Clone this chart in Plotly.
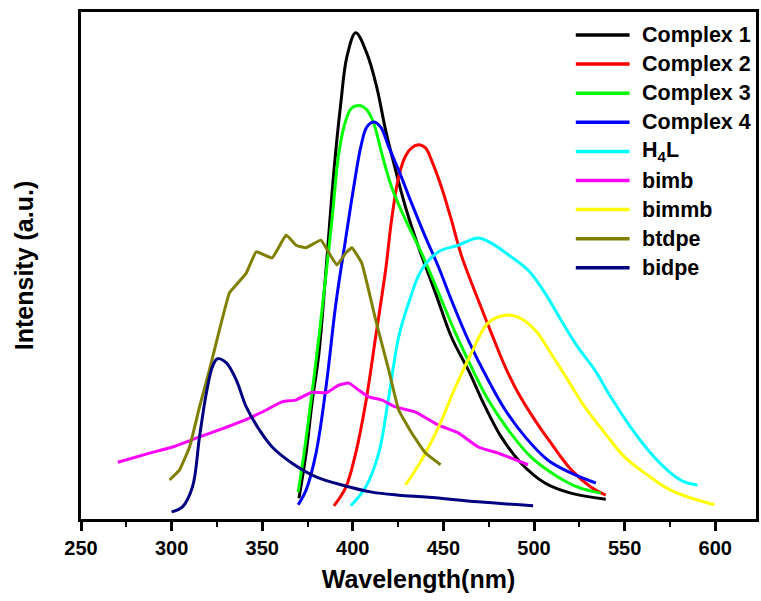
import plotly.graph_objects as go

# ---------------- data (wavelength nm, intensity a.u.) ----------------
c1_x = [370.3, 374.2, 377.5, 381.3, 385.2, 389.6, 393.4, 396.7, 401.6, 407.7, 413.2, 418.1, 423.6, 429.1, 436.3, 445.6, 454.4, 463.7, 473.1, 481.9, 492.9, 506.0, 520.3, 539.6]
c1_y = [4.1, 12.9, 22.9, 32.7, 49.1, 68.8, 82.1, 91.1, 95.9, 91.9, 85.2, 76.7, 68.8, 61.5, 53.6, 44.6, 35.9, 29.4, 22.1, 16.2, 11.0, 7.1, 5.1, 3.9]

c2_x = [389.6, 396.2, 401.6, 407.1, 412.6, 418.1, 421.4, 425.3, 429.1, 432.4, 436.3, 440.1, 443.4, 448.9, 454.4, 459.9, 469.2, 476.4, 484.1, 491.2, 500.5, 509.3, 520.3, 531.3, 539.6]
c2_y = [2.6, 6.3, 13.0, 22.9, 35.9, 49.1, 59.0, 67.5, 71.6, 73.2, 73.8, 73.2, 70.8, 65.5, 59.0, 52.0, 43.2, 36.7, 30.0, 24.9, 19.5, 15.0, 9.8, 6.3, 4.7]

c3_x = [369.8, 373.1, 377.5, 381.3, 388.5, 392.3, 396.2, 399.5, 404.4, 407.7, 411.5, 415.9, 421.4, 429.1, 437.9, 447.3, 456.6, 465.4, 474.7, 485.7, 498.4, 513.2, 524.2, 536.8]
c3_y = [5.3, 13.0, 24.9, 35.9, 59.0, 72.2, 78.7, 81.1, 81.5, 80.7, 78.1, 72.2, 65.5, 59.0, 52.5, 44.6, 36.7, 30.0, 23.5, 17.6, 12.2, 8.3, 6.3, 5.1]

c4_x = [369.8, 374.2, 379.7, 385.2, 390.7, 396.2, 400.5, 404.4, 407.7, 411.5, 415.4, 419.8, 425.3, 432.4, 440.1, 447.3, 454.4, 463.7, 474.7, 484.1, 495.1, 507.7, 520.3, 534.1]
c4_y = [2.8, 5.7, 13.0, 26.0, 42.6, 55.6, 65.5, 73.4, 77.3, 78.3, 77.3, 73.4, 68.8, 62.3, 55.6, 49.7, 43.2, 35.3, 27.4, 21.5, 16.2, 11.6, 9.1, 7.1]

h4l_x = [398.9, 407.1, 414.3, 419.8, 425.3, 430.8, 437.9, 447.3, 458.2, 469.2, 476.4, 487.4, 496.7, 506.0, 514.8, 524.2, 533.5, 542.3, 553.3, 564.3, 575.3, 583.0, 590.1]
h4l_y = [2.6, 6.3, 13.0, 24.0, 35.9, 42.6, 49.1, 52.7, 54.0, 55.4, 54.4, 51.7, 49.1, 44.6, 39.3, 33.9, 29.4, 24.1, 18.1, 13.0, 9.1, 7.3, 6.7]

bimb_x = [270.3, 287.9, 300.5, 315.4, 330.2, 342.9, 352.2, 361.0, 368.7, 377.5, 385.2, 392.3, 397.8, 403.3, 408.8, 415.9, 423.6, 434.6, 447.3, 458.2, 469.2, 480.2, 496.7]
bimb_y = [11.2, 13.0, 14.2, 16.2, 18.1, 19.9, 21.5, 23.1, 23.5, 25.0, 24.9, 26.4, 26.8, 25.4, 24.1, 23.5, 22.1, 21.1, 18.5, 17.0, 14.2, 13.0, 10.7]

bimmb_x = [429.1, 437.9, 447.3, 456.6, 465.4, 474.7, 484.1, 491.2, 500.5, 509.3, 518.7, 528.0, 539.0, 550.0, 561.0, 575.3, 599.5]
bimmb_y = [6.7, 11.6, 18.1, 26.0, 32.7, 38.7, 40.2, 39.8, 37.3, 32.7, 27.4, 22.1, 17.0, 12.2, 9.1, 5.7, 2.8]

btdpe_x = [298.9, 304.4, 309.9, 315.4, 320.9, 326.4, 331.9, 335.7, 341.2, 346.7, 355.5, 363.2, 368.7, 374.2, 382.4, 386.8, 391.2, 396.2, 399.5, 404.9, 412.6, 419.8, 425.3, 432.4, 440.1, 448.4]
btdpe_y = [7.7, 9.7, 14.2, 22.1, 29.4, 37.3, 44.6, 46.2, 48.5, 52.7, 51.5, 56.0, 54.0, 53.5, 55.0, 52.5, 50.1, 52.5, 53.5, 50.5, 39.3, 29.4, 21.5, 17.0, 13.0, 10.7]

bidpe_x = [300.0, 306.0, 311.5, 315.4, 319.2, 322.5, 325.3, 330.2, 335.7, 341.2, 348.4, 355.5, 366.5, 379.7, 394.0, 410.5, 425.3, 441.8, 469.2, 499.5]
bidpe_y = [1.4, 2.4, 6.3, 16.2, 24.9, 30.0, 31.6, 30.8, 27.4, 22.1, 17.6, 14.2, 11.0, 8.3, 6.7, 5.3, 4.7, 4.3, 3.4, 2.6]

names = ["Complex 1", "Complex 2", "Complex 3", "Complex 4", "H<sub>4</sub>L",
         "bimb", "bimmb", "btdpe", "bidpe"]
xs = [c1_x, c2_x, c3_x, c4_x, h4l_x, bimb_x, bimmb_x, btdpe_x, bidpe_x]
ys = [c1_y, c2_y, c3_y, c4_y, h4l_y, bimb_y, bimmb_y, btdpe_y, bidpe_y]
colors = ["#000000", "#FF0000", "#00FF00", "#0000FF", "#00FFFF",
          "#FF00FF", "#FFFF00", "#808000", "#000080"]
smooth = [1.0, 1.0, 1.0, 1.0, 1.0, 0.5, 1.0, 0.3, 1.0]

xtick_vals = [250, 300, 350, 400, 450, 500, 550, 600]

FONT = "Liberation Sans, Arial"

fig = go.Figure()
for n, x, y, c, s in zip(names, xs, ys, colors, smooth):
    fig.add_trace(go.Scatter(x=x, y=y, mode="lines", name=n,
                             line=dict(color=c, width=3, shape="spline", smoothing=s),
                             showlegend=False))

# manual legend (paper coordinates)
L, R, T, B = 81, 759, 12, 519
W, H = R - L, B - T
shapes = []
annotations = []
for i, (n, c) in enumerate(zip(names, colors)):
    py = 35 + i * 29.1
    yp = (B - py) / H
    shapes.append(dict(type="line", xref="paper", yref="paper",
                       x0=(578 - L) / W, x1=(632 - L) / W, y0=yp, y1=yp,
                       line=dict(color=c, width=3.5)))
    annotations.append(dict(xref="paper", yref="paper", x=(642 - L) / W, y=yp,
                            text=n, showarrow=False, xanchor="left", yanchor="middle",
                            font=dict(family=FONT, size=21.5,
                                      color="black", weight="bold")))

fig.update_layout(
    width=761, height=601,
    margin=dict(l=L, r=761 - R, t=T, b=601 - B),
    paper_bgcolor="white", plot_bgcolor="white",
    shapes=shapes, annotations=annotations,
    xaxis=dict(range=[250, 622.5], tickvals=xtick_vals,
               ticktext=[str(v) for v in xtick_vals],
               ticks="outside", ticklen=9, tickwidth=3, tickcolor="black",
               minor=dict(dtick=25, tick0=250, ticks="outside", ticklen=5,
                          tickwidth=2, tickcolor="black"),
               showline=True, linewidth=3, linecolor="black", mirror=True,
               showgrid=False, zeroline=False,
               tickfont=dict(family=FONT, size=20, color="black", weight="bold"),
               title=dict(text="Wavelength(nm)", standoff=13,
                          font=dict(family=FONT, size=25, color="black", weight="bold"))),
    yaxis=dict(range=[0, 100], showticklabels=False, ticks="",
               showline=True, linewidth=3, linecolor="black", mirror=True,
               showgrid=False, zeroline=False,
               title=dict(text="Intensity (a.u.)", standoff=38,
                          font=dict(family=FONT, size=25, color="black", weight="bold"))),
)

fig.write_html("out.html")
